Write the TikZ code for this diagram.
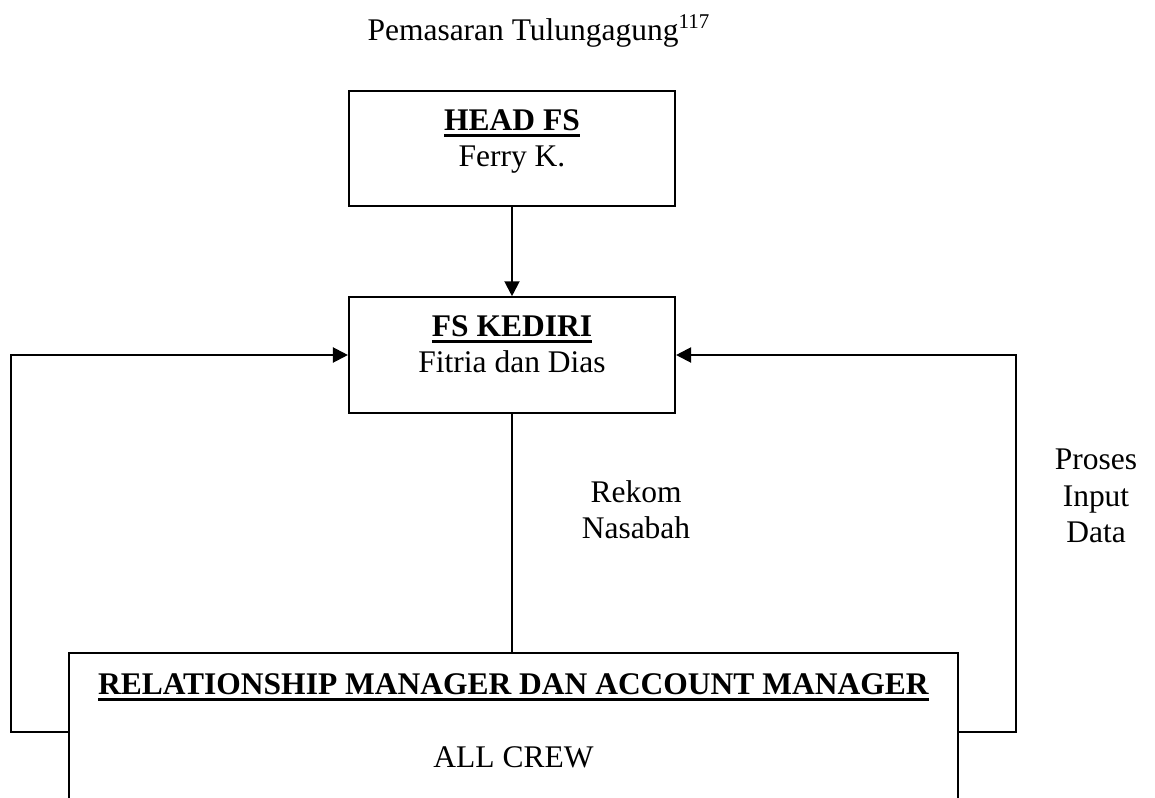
\documentclass[tikz,border=0pt]{standalone}
\usepackage{fontspec}
\setmainfont{Liberation Serif}
\usetikzlibrary{arrows.meta, positioning}

\newcommand{\ulbold}[1]{\setbox0=\hbox{\textbf{#1}}\rlap{\rule[-2.6pt]{\wd0}{1.1pt}}\box0}

\begin{document}
\begin{tikzpicture}[
    x=0.381pt, y=-0.381pt,
    box/.style={rectangle, draw=black, line width=0.8pt, minimum width=124.2pt, minimum height=44pt, inner sep=0pt},
    bigbox/.style={rectangle, draw=black, line width=0.8pt, minimum width=338.7pt, minimum height=78.9pt, inner sep=0pt},
    txt/.style={inner sep=0pt, font=\fontsize{12}{13.8}\selectfont},
    note/.style={inner sep=0pt, align=center, font=\fontsize{12}{13.8}\selectfont},
    arrow/.style={-{Triangle[length=5.7pt, width=5.7pt]}, line width=0.8pt},
    link/.style={line width=0.8pt}
]

\path[use as bounding box, clip] (0,0) rectangle (1155,798);

\node (title) [txt, anchor=base west] at (367,40) {Pemasaran Tulungagung\textsuperscript{117}};

% kotak atas
\node (head) [box] at (512,148.5) {};
\node (headtitle) [txt, anchor=base] at (512,130) {\ulbold{HEAD FS}};
\node (headname) [txt, anchor=base] at (512,166) {Ferry K.};

\node (fsk) [box] at (512,355) {};
\node (fsktitle) [txt, anchor=base] at (512,336) {\ulbold{FS KEDIRI}};
\node (fskname) [txt, anchor=base] at (512,372) {Fitria dan Dias};

% kotak bawah
\node (rm) [bigbox] at (513.5,756.5) {};
\node (rmtitle) [txt, anchor=base] at (513.5,694) {\ulbold{RELATIONSHIP MANAGER DAN ACCOUNT MANAGER}};
\node (rmname) [txt, anchor=base] at (513.5,767) {ALL CREW};

\node (rekom) [note] at (636,510) {Rekom\\Nasabah};
\node (proses) [note] at (1096,496) {Proses\\Input\\Data};

\coordinate (loopy) at (0,732);

\draw [arrow] (head) -- (fsk);
\draw [link] (fsk.south) -- (fsk.south |- rm.north);
\draw [arrow] (rm.west |- loopy) -- ++(-57,0) |- (fsk.west);
\draw [arrow] (rm.east |- loopy) -- ++(57,0) |- (fsk.east);

\end{tikzpicture}
\end{document}
